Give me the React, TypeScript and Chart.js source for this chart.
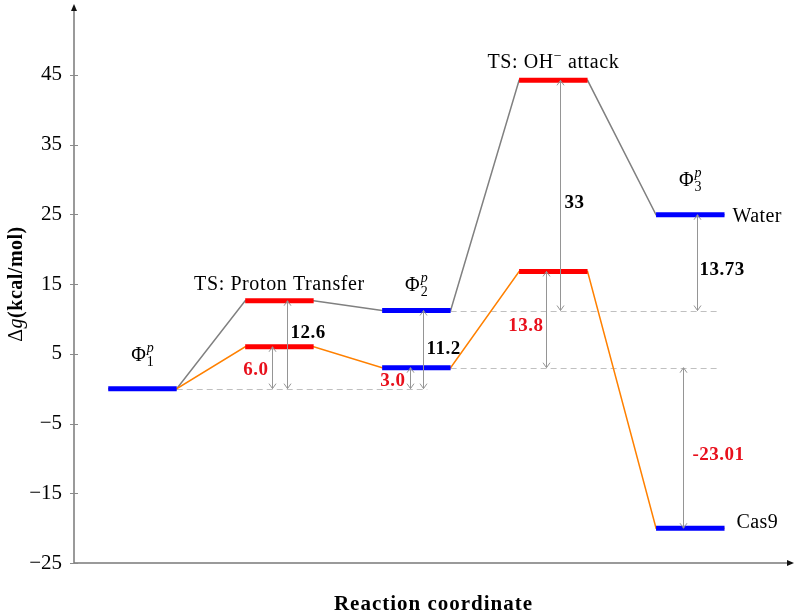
import React, { useEffect, useRef } from 'react';
import { Chart, registerables } from 'chart.js';

Chart.register(...registerables);

// ---------- data ----------
const stageX = [0.5, 1.5, 2.5, 3.5, 4.5];
const stageIsTS = [false, true, false, true, false];
const waterEnergy = [0, 12.6, 11.2, 44.2, 24.93];
const cas9Energy = [0, 6.0, 3.0, 16.8, -20.01];
const yTickValues = [-25, -15, -5, 5, 15, 25, 35, 45];

const barrierX = [1.445, 1.555, 2.45, 2.55, 3.445, 3.55, 4.45, 4.55];
const barrierFrom = [0, 0, 0, 0, 3.0, 11.2, 3.0, 11.2];
const barrierTo = [6.0, 12.6, 3.0, 11.2, 16.8, 44.2, -20.01, 24.93];
const barrierText = ['6.0', '12.6', '3.0', '11.2', '13.8', '33', '-23.01', '13.73'];
const barrierIsCas9 = [true, false, true, false, true, false, true, false];

const refLineY = [0, 11.2, 3.0];
const refLineFrom = [0.75, 2.75, 2.75];
const refLineTo = [2.58, 4.72, 4.72];

const productNames = ['Water', 'Cas9'];
const productEnergy = [24.93, -20.01];

// ---------- layout (label placement) ----------
const HALF = 0.25;
const barrierLabelY = [3.0, 8.3, 1.4, 6.0, 9.3, 26.9, -9.2, 17.3];
const barrierLabelSide = [-1, 1, -1, 1, -1, 1, 1, 1];
const barrierLabelGap = [4, 3, 5, 3, 3, 4, 9, 2];
const stageLabelY = [4.0, 14.2, 14.0, 46.0, 29.1];

const FAM = "'Liberation Serif', 'Times New Roman', serif";
const BLUE = '#0000ff';
const RED = '#ff0000';
const GRAY = '#808080';
const ORANGE = '#ff8000';

type Run = { t: string; f: string; dy?: number };

function drawRuns(ctx: CanvasRenderingContext2D, runs: Run[], x: number, y: number, align: string, color: string, spacing = '0px') {
  (ctx as any).letterSpacing = spacing;
  let w = 0;
  for (const r of runs) {
    ctx.font = r.f;
    w += ctx.measureText(r.t).width;
  }
  let cx = align === 'left' ? x : align === 'center' ? x - w / 2 : x - w;
  ctx.fillStyle = color;
  ctx.textAlign = 'left';
  ctx.textBaseline = 'alphabetic';
  for (const r of runs) {
    ctx.font = r.f;
    ctx.fillText(r.t, cx, y + (r.dy || 0));
    cx += ctx.measureText(r.t).width;
  }
  (ctx as any).letterSpacing = '0px';
}

function drawPhi(ctx: CanvasRenderingContext2D, sub: string, cx: number, by: number) {
  const big = `20px ${FAM}`;
  const small = `14px ${FAM}`;
  const smallIt = `italic 14px ${FAM}`;
  ctx.font = big;
  const wPhi = ctx.measureText('Φ').width;
  ctx.font = small;
  const wSub = ctx.measureText(sub).width;
  ctx.font = smallIt;
  const wSup = ctx.measureText('p').width;
  const total = wPhi + 1 + Math.max(wSub, wSup);
  const x0 = cx - total / 2;
  ctx.fillStyle = '#000';
  ctx.textAlign = 'left';
  ctx.textBaseline = 'alphabetic';
  ctx.font = big;
  ctx.fillText('Φ', x0, by);
  ctx.font = small;
  ctx.fillText(sub, x0 + wPhi + 1, by + 5);
  ctx.font = smallIt;
  ctx.fillText('p', x0 + wPhi + 1, by - 9);
}

function vArrow(ctx: CanvasRenderingContext2D, x: number, y1: number, y2: number) {
  ctx.beginPath();
  ctx.moveTo(x, y1);
  ctx.lineTo(x, y2);
  ctx.stroke();
  const heads: [number, number][] = [[y1, y1 < y2 ? 1 : -1], [y2, y2 < y1 ? 1 : -1]];
  for (const [ty, s] of heads) {
    ctx.beginPath();
    ctx.moveTo(x - 3.5, ty + 5 * s);
    ctx.lineTo(x, ty);
    ctx.lineTo(x + 3.5, ty + 5 * s);
    ctx.stroke();
  }
}

const overlay = {
  id: 'overlay',
  beforeDatasetsDraw(chart: any) {
    const { ctx, scales } = chart;
    const xs = scales.x;
    const ys = scales.y;
    ctx.save();
    ctx.strokeStyle = '#c0c0c0';
    ctx.lineWidth = 1;
    ctx.setLineDash([6, 4]);
    refLineY.forEach((v, i) => {
      const py = Math.round(ys.getPixelForValue(v)) + 0.5;
      ctx.beginPath();
      ctx.moveTo(xs.getPixelForValue(refLineFrom[i]), py);
      ctx.lineTo(xs.getPixelForValue(refLineTo[i]), py);
      ctx.stroke();
    });
    ctx.restore();
  },
  afterDatasetsDraw(chart: any) {
    const { ctx, scales, chartArea } = chart;
    const xs = scales.x;
    const ys = scales.y;
    ctx.save();

    // barrier arrows
    ctx.strokeStyle = '#959595';
    ctx.lineWidth = 1;
    barrierX.forEach((bx, i) => {
      const px = Math.round(xs.getPixelForValue(bx)) + 0.5;
      vArrow(ctx, px, ys.getPixelForValue(barrierFrom[i]), ys.getPixelForValue(barrierTo[i]));
      const side = barrierLabelSide[i];
      const lx = px + side * barrierLabelGap[i];
      const ly = ys.getPixelForValue(barrierLabelY[i]) + 7;
      drawRuns(ctx, [{ t: barrierText[i], f: `bold 19px ${FAM}` }], lx, ly,
        side < 0 ? 'right' : 'left', barrierIsCas9[i] ? '#e8101c' : '#000', '0.5px');
    });

    // stage labels
    const phiSubs = ['1', '', '2', '', '3'];
    stageX.forEach((sx, i) => {
      const cx = xs.getPixelForValue(sx);
      const by = ys.getPixelForValue(stageLabelY[i]);
      if (!stageIsTS[i]) {
        drawPhi(ctx, phiSubs[i], cx, by);
      } else if (i === 1) {
        drawRuns(ctx, [{ t: 'TS: Proton Transfer', f: `20px ${FAM}` }], cx, by, 'center', '#000', '0.6px');
      } else {
        drawRuns(ctx, [
          { t: 'TS: OH', f: `20px ${FAM}` },
          { t: '−', f: `14px ${FAM}`, dy: -8 },
          { t: ' attack', f: `20px ${FAM}` },
        ], cx, by, 'center', '#000', '0.6px');
      }
    });

    // product labels
    const endX = xs.getPixelForValue(stageX[4] + HALF);
    productNames.forEach((nm, i) => {
      const py = ys.getPixelForValue(productEnergy[i]);
      drawRuns(ctx, [{ t: nm, f: `20px ${FAM}` }], endX + (i === 0 ? 8 : 12), py + (i === 0 ? 7 : 0), 'left', '#000', '0.4px');
    });

    // axes
    const { left, right, top, bottom } = chartArea;
    ctx.strokeStyle = '#7a7a7a';
    ctx.lineWidth = 1.5;
    ctx.beginPath();
    ctx.moveTo(left, bottom);
    ctx.lineTo(left, top + 3);
    ctx.moveTo(left, bottom);
    ctx.lineTo(right - 3, bottom);
    ctx.stroke();
    ctx.fillStyle = '#111';
    ctx.beginPath();
    ctx.moveTo(left, top - 1);
    ctx.lineTo(left - 3, top + 6);
    ctx.lineTo(left + 3, top + 6);
    ctx.closePath();
    ctx.fill();
    ctx.beginPath();
    ctx.moveTo(right + 1, bottom);
    ctx.lineTo(right - 6, bottom - 3);
    ctx.lineTo(right - 6, bottom + 3);
    ctx.closePath();
    ctx.fill();
    ctx.lineWidth = 1;
    ctx.strokeStyle = '#8a8a8a';
    yTickValues.forEach((v) => {
      const py = Math.round(ys.getPixelForValue(v)) + 0.5;
      ctx.beginPath();
      ctx.moveTo(left - 4, py);
      ctx.lineTo(left + 4, py);
      ctx.stroke();
    });

    // axis titles
    drawRuns(ctx, [{ t: 'Reaction coordinate', f: `bold 21px ${FAM}` }], (left + right) / 2, 610, 'center', '#000', '1px');
    ctx.save();
    ctx.translate(22, (top + bottom) / 2);
    ctx.rotate(-Math.PI / 2);
    drawRuns(ctx, [
      { t: 'Δ', f: `20px ${FAM}` },
      { t: 'g', f: `italic 20px ${FAM}` },
      { t: '(kcal/mol)', f: `bold 20px ${FAM}` },
    ], 0, 0, 'center', '#000', '0.5px');
    ctx.restore();

    ctx.restore();
  },
};

export default function App() {
  const canvasRef = useRef<HTMLCanvasElement | null>(null);

  useEffect(() => {
    const canvas = canvasRef.current;
    if (!canvas) return;

    const pathPoints = (e: number[]) =>
      stageX.flatMap((x, i) => [{ x: x - HALF, y: e[i] }, { x: x + HALF, y: e[i] }]);

    const levelSet = (x: number, y: number, ts: boolean) => ({
      data: [{ x: x - HALF, y }, { x: x + HALF, y }],
      borderColor: ts ? RED : BLUE,
      borderWidth: 5,
      borderCapStyle: 'butt',
      showLine: true,
      order: 0,
    });

    const datasets: any[] = [];
    stageX.forEach((x, i) => datasets.push(levelSet(x, waterEnergy[i], stageIsTS[i])));
    stageX.forEach((x, i) => {
      if (i > 0) datasets.push(levelSet(x, cas9Energy[i], stageIsTS[i]));
    });
    datasets.push({ data: pathPoints(cas9Energy), borderColor: ORANGE, borderWidth: 1.5, showLine: true, order: 1 });
    datasets.push({ data: pathPoints(waterEnergy), borderColor: GRAY, borderWidth: 1.5, showLine: true, order: 2 });

    const chart = new Chart(canvas, {
      type: 'scatter',
      data: { datasets },
      options: {
        responsive: false,
        animation: false,
        devicePixelRatio: 1,
        layout: { padding: { top: 5, right: 7, left: 0, bottom: 0 } },
        elements: { point: { radius: 0, hoverRadius: 0 }, line: { tension: 0 } },
        plugins: { legend: { display: false }, tooltip: { enabled: false } },
        scales: {
          x: {
            type: 'linear',
            min: 0,
            max: 5.25,
            grid: { display: false },
            border: { display: false },
            ticks: { display: false },
            afterFit: (s: any) => { s.height = 51; s.paddingLeft = 0; s.paddingRight = 0; },
          },
          y: {
            type: 'linear',
            min: -25,
            max: 55,
            grid: { display: false },
            border: { display: false },
            afterBuildTicks: (s: any) => { s.ticks = yTickValues.map((v) => ({ value: v })); },
            ticks: {
              padding: 4,
              color: '#000',
              font: { family: FAM, size: 21 },
              callback: (v: any) => (Number(v) < 0 ? '−' + Math.abs(Number(v)) : String(v)),
            },
            afterFit: (s: any) => { s.width = 74; s.paddingTop = 0; s.paddingBottom = 0; },
          },
        },
      } as any,
      plugins: [overlay],
    });

    return () => chart.destroy();
  }, []);

  return (
    <div style={{ position: 'absolute', left: 0, top: 0, width: 800, height: 614, background: '#fff' }}>
      <canvas ref={canvasRef} width={800} height={614} style={{ width: 800, height: 614 }} />
    </div>
  );
}
